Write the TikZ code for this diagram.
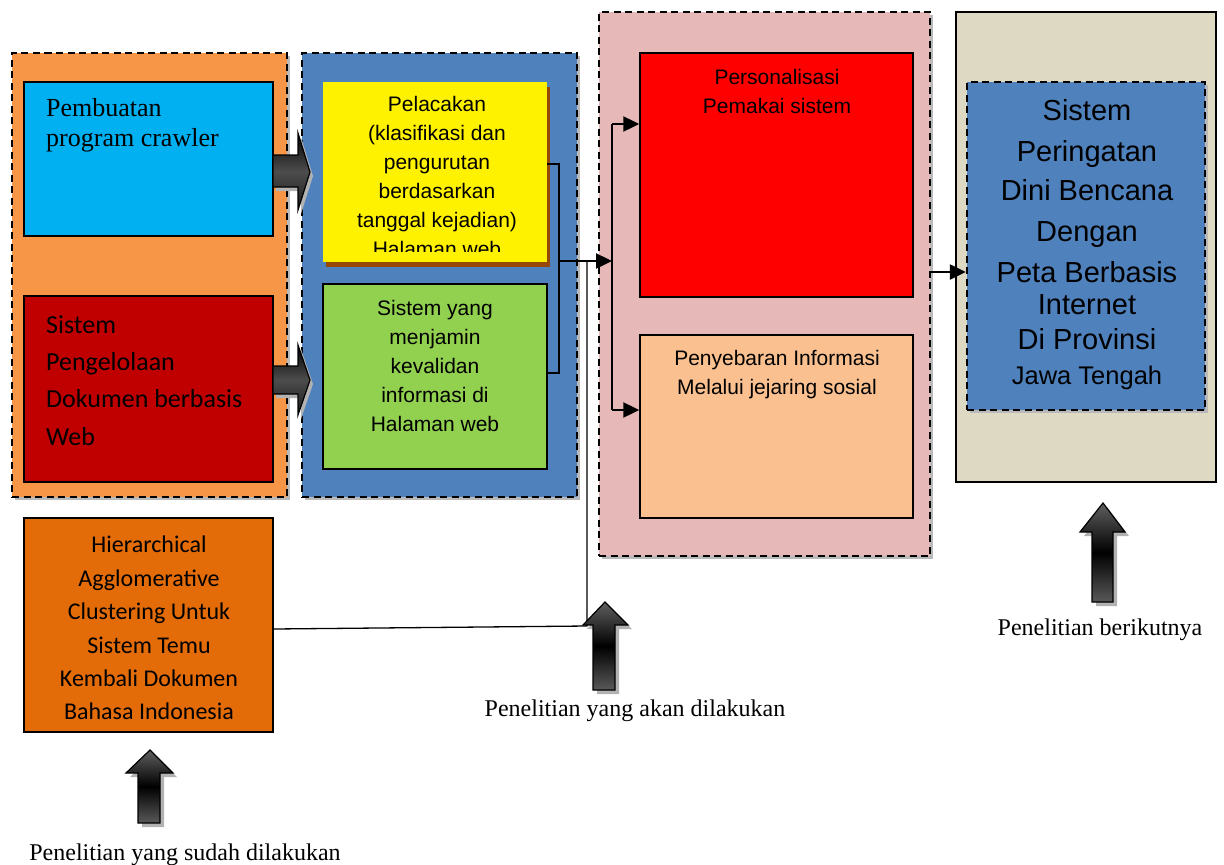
\documentclass[tikz,border=0pt]{standalone}
\usepackage{fontspec}
\setmainfont{Liberation Serif}
\newfontfamily\arialf{Liberation Sans}
\newfontfamily\calibrif{Carlito}
\usetikzlibrary{arrows.meta,shadows}

\definecolor{orangeBg}{HTML}{F79646}
\definecolor{cyanBox}{HTML}{00B0F0}
\definecolor{darkRed}{HTML}{C00000}
\definecolor{blueBg}{HTML}{4F81BD}
\definecolor{brownShadow}{HTML}{984806}
\definecolor{greenBox}{HTML}{92D050}
\definecolor{pinkBg}{HTML}{E6B9B8}
\definecolor{peachBox}{HTML}{FAC090}
\definecolor{beigeBg}{HTML}{DDD9C3}
\definecolor{burntOrange}{HTML}{E36C09}

\begin{document}
\begin{tikzpicture}[x=1pt,y=-1pt,
  greyshadow/.style={drop shadow={shadow xshift=3pt,shadow yshift=-3pt,fill=gray!55,opacity=1}},
  container/.style={draw=black,line width=2.4pt,dash pattern=on 7pt off 4.5pt,inner sep=0pt,greyshadow},
  box/.style={draw=black,line width=1.5pt,inner sep=0pt},
  link/.style={draw=black,line width=1.6pt},
  flow/.style={draw=black,line width=2.4pt,-{Triangle[length=16pt,width=15pt]}},
  blockv/.style={draw=black,line width=1.2pt,top color=gray!75!black,bottom color=gray!70!black,middle color=black,
    drop shadow={shadow xshift=4pt,shadow yshift=-4pt,fill=gray!60,opacity=1}},
  blockh/.style={draw=black,line width=1.2pt,top color=black,bottom color=black!90,middle color=gray!60!black,
    drop shadow={shadow xshift=3pt,shadow yshift=-4pt,fill=gray!60,opacity=1}},
  times/.style={font=\fontsize{24}{28}\selectfont},
]
\useasboundingbox (0,0) rectangle (1224,865);

% ---- containers ----
\node[container,fill=orangeBg,minimum width=275pt,minimum height=444pt] (c1) at (149.5,275) {};
\node[container,fill=blueBg,minimum width=275pt,minimum height=444pt] (c2) at (439.5,275) {};
\node[container,fill=pinkBg,minimum width=331pt,minimum height=544pt] (c3) at (764.5,284) {};
\node[box,fill=beigeBg,minimum width=260pt,minimum height=470pt] (c4) at (1086,247) {};

% ---- boxes ----
\node[box,fill=cyanBox,minimum width=249pt,minimum height=154pt] (cbox) at (148.5,159) {};
\node[box,fill=darkRed,minimum width=249pt,minimum height=186pt] (dbox) at (148.5,389) {};
\node[inner sep=0pt,fill=yellow,minimum width=224pt,minimum height=180pt,
      drop shadow={shadow xshift=3pt,shadow yshift=-5pt,fill=brownShadow,opacity=1}] (ybox) at (435,172) {};
\node[box,fill=greenBox,minimum width=224pt,minimum height=185pt] (gbox) at (435,376.5) {};
\node[box,fill=red,minimum width=273pt,minimum height=244pt] (rbox) at (776.5,175) {};
\node[box,fill=peachBox,minimum width=273pt,minimum height=183pt] (pbox) at (776.5,426.5) {};
\node[container,fill=blueBg,minimum width=238pt,minimum height=328pt] (bbox) at (1086,246) {};
\node[box,fill=burntOrange,minimum width=249pt,minimum height=214pt] (obox) at (148.5,625) {};

% ---- texts ----
\node[anchor=north west,inner sep=0pt,align=left,font=\fontsize{26}{30}\selectfont] (ctext) at (46,95)
  {\strut Pembuatan\\program crawler};
\node[anchor=north west,inner sep=0pt,align=left,font=\calibrif\fontsize{26}{37.3}\selectfont] (dtext) at (46,306.9)
  {\strut Sistem\\Pengelolaan\\Dokumen berbasis\\Web};
\begin{scope}
  \clip (323,82) rectangle (547,251);
  \node[anchor=north,inner sep=0pt,align=center,font=\arialf\fontsize{21}{29}\selectfont] (ytext) at (437,90.7)
    {\strut Pelacakan\\(klasifikasi dan\\pengurutan\\berdasarkan\\tanggal kejadian)\\Halaman web};
\end{scope}
\node[anchor=north,inner sep=0pt,align=center,font=\arialf\fontsize{21}{29}\selectfont] (gtext) at (435,294.7)
  {\strut Sistem yang\\menjamin\\kevalidan\\informasi di\\Halaman web};
\node[anchor=north,inner sep=0pt,align=center,font=\arialf\fontsize{21}{29}\selectfont] (rtext) at (777,63.7)
  {\strut Personalisasi\\Pemakai sistem};
\node[anchor=north,inner sep=0pt,align=center,font=\arialf\fontsize{21}{29}\selectfont] (ptext) at (777,344.7)
  {\strut Penyebaran Informasi\\Melalui jejaring sosial};
\node[anchor=north,inner sep=0pt,align=center,font=\calibrif\fontsize{24}{33.4}\selectfont] (otext) at (149,529.3)
  {\strut Hierarchical\\Agglomerative\\Clustering Untuk\\Sistem Temu\\Kembali Dokumen\\Bahasa Indonesia};
\foreach \t/\b/\s [count=\k] in {Sistem/120.4/29,Peringatan/161.4/29,Dini Bencana/200.4/29,Dengan/241.4/29,
    Peta Berbasis/282.4/29,Internet/314.4/29,Di Provinsi/349.4/29,Jawa Tengah/384.2/25.5}
  \node[anchor=base,inner sep=0pt,font=\arialf\fontsize{\s}{\s}\selectfont] (bt\k) at (1087,\b) {\t};

% ---- connectors ----
\coordinate (brT) at (559,164);
\coordinate (brB) at (559,373);
\coordinate (brM) at (559,261);
\coordinate (busM) at (612,261);
\coordinate (busT) at (612,124);
\coordinate (busB) at (612,410);
\coordinate (vj) at (587,626);
\coordinate (oj) at (273,629);
\coordinate (rj) at (930,272);
\draw[link] (ybox.east |- brT) -- (brT) -- (brB) -- (gbox.east |- brB);
\draw[flow] (brM) -- (busM);
\draw[link] (busT) -- (busB);
\draw[flow] (busT) -- (rbox.west |- busT);
\draw[flow] (busB) -- (pbox.west |- busB);
\draw[draw=black,line width=1.3pt] (obox.east |- oj) -- (vj) -- (vj |- brM);
\draw[flow] (c3.east |- rj) -- (bbox.west |- rj);

% ---- block arrows ----
\path[blockh] (273,155) -- (298,155) -- (298,133) -- (310,172) -- (298,210) -- (298,187) -- (273,187) -- cycle;
\path[blockh] (273,366) -- (298,366) -- (298,345) -- (310,380) -- (298,415) -- (298,394) -- (273,394) -- cycle;
\path[blockv] (138,823) -- (138,773) -- (126,773) -- (150,750) -- (173,773) -- (160,773) -- (160,823) -- cycle;
\path[blockv] (593,690) -- (593,625) -- (583,625) -- (605,602) -- (628,625) -- (615,625) -- (615,690) -- cycle;
\path[blockv] (1092,602) -- (1092,532) -- (1080,532) -- (1103,503) -- (1125,532) -- (1113,532) -- (1113,602) -- cycle;

% ---- captions ----
\node[times,anchor=base,inner sep=0pt] (cap1) at (185,860) {Penelitian yang sudah dilakukan};
\node[times,anchor=base,inner sep=0pt] (cap2) at (635,716) {Penelitian yang akan dilakukan};
\node[times,anchor=base,inner sep=0pt] (cap3) at (1100,635) {Penelitian berikutnya};
\end{tikzpicture}
\end{document}
